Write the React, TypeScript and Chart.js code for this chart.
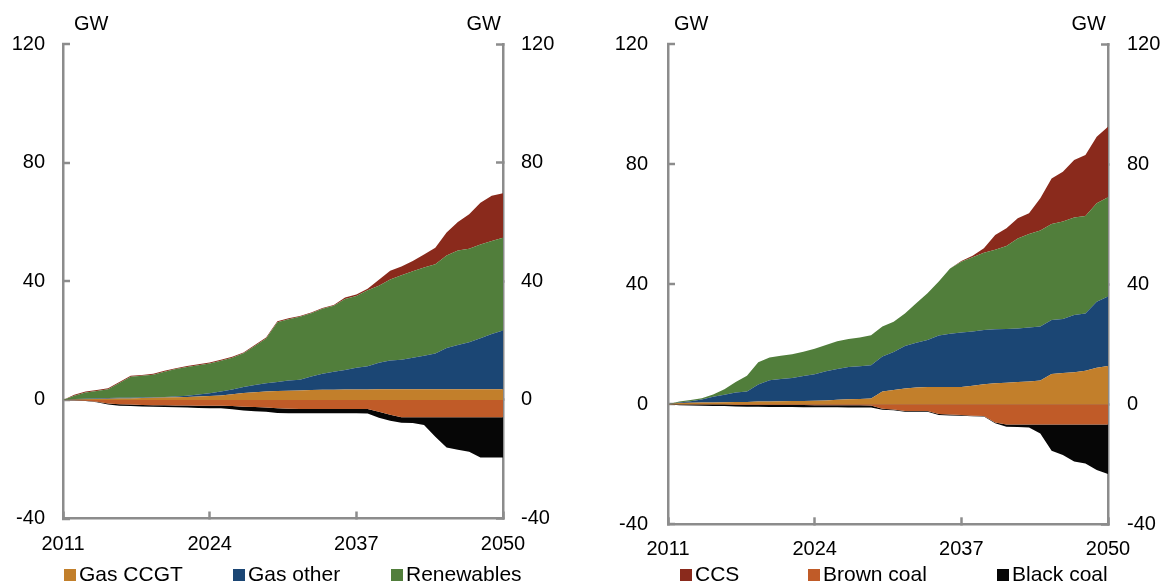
import React, { useEffect, useRef } from "react";
import { Chart, registerables } from "chart.js";

Chart.register(...registerables);

// ---------- data ----------
const years = [
  "2011", "2012", "2013", "2014", "2015", "2016", "2017", "2018", "2019", "2020",
  "2021", "2022", "2023", "2024", "2025", "2026", "2027", "2028", "2029", "2030",
  "2031", "2032", "2033", "2034", "2035", "2036", "2037", "2038", "2039", "2040",
  "2041", "2042", "2043", "2044", "2045", "2046", "2047", "2048", "2049", "2050",
];
const xTickYears = ["2011", "2024", "2037", "2050"];
const yMin = -40;
const yMax = 120;
const yStep = 40;
const unitLabel = "GW";

const seriesNames = ["Gas CCGT", "Gas other", "Renewables", "CCS", "Brown coal", "Black coal"];
const seriesColors = ["#C27F2B", "#1B4674", "#517E3B", "#8A2A1C", "#C05B28", "#060606"];

// Left panel
const leftGasCCGT = [0, 0.1, 0.2, 0.3, 0.4, 0.5, 0.5, 0.6, 0.7, 0.8, 0.9, 1.0, 1.1, 1.3, 1.5, 1.9, 2.3, 2.6, 2.8, 3.0, 3.1, 3.2, 3.3, 3.4, 3.4, 3.5, 3.5, 3.5, 3.6, 3.6, 3.6, 3.6, 3.6, 3.6, 3.6, 3.6, 3.6, 3.6, 3.6, 3.6];
const leftGasOther = [0, 0.2, 0.2, 0.2, 0.2, 0.2, 0.2, 0.2, 0.2, 0.2, 0.2, 0.4, 0.7, 0.9, 1.3, 1.6, 2.0, 2.4, 2.8, 3.0, 3.4, 3.6, 4.6, 5.4, 6.1, 6.6, 7.3, 7.8, 8.9, 9.7, 9.9, 10.6, 11.3, 12.0, 13.9, 14.9, 15.8, 17.2, 18.6, 19.8];
const leftRenewables = [0, 1.1, 2.1, 2.5, 3.0, 5.0, 7.1, 7.3, 7.6, 8.5, 9.3, 9.7, 9.9, 10.1, 10.4, 10.7, 11.4, 13.2, 15.1, 20.2, 20.7, 21.2, 21.3, 21.9, 22.2, 23.9, 24.2, 25.7, 26.0, 27.3, 28.5, 29.2, 29.7, 30.1, 31.2, 31.9, 31.6, 31.6, 31.4, 31.3];
const leftCCS = [0, 0.3, 0.3, 0.3, 0.3, 0.3, 0.3, 0.3, 0.3, 0.3, 0.3, 0.3, 0.3, 0.3, 0.3, 0.3, 0.3, 0.3, 0.3, 0.3, 0.3, 0.3, 0.3, 0.3, 0.3, 0.5, 0.5, 0.5, 2.0, 2.9, 3.0, 3.4, 4.4, 5.6, 7.7, 9.6, 11.6, 14.1, 15.2, 15.0];
const leftBrownCoal = [0, -0.1, -0.3, -0.6, -1.2, -1.5, -1.6, -1.7, -1.8, -1.8, -1.9, -1.9, -2.0, -2.0, -2.0, -2.1, -2.3, -2.4, -2.6, -2.8, -3.0, -3.1, -3.1, -3.1, -3.1, -3.1, -3.1, -3.1, -4.0, -5.0, -5.9, -5.9, -5.9, -5.9, -5.9, -5.9, -5.9, -5.9, -5.9, -5.9];
const leftBlackCoal = [0, -0.05, -0.1, -0.2, -0.4, -0.5, -0.5, -0.5, -0.5, -0.6, -0.6, -0.7, -0.7, -0.8, -0.8, -1.1, -1.3, -1.4, -1.4, -1.6, -1.5, -1.4, -1.4, -1.4, -1.4, -1.4, -1.4, -1.5, -2.0, -2.0, -1.8, -1.9, -2.6, -6.5, -10.2, -10.9, -11.6, -13.5, -13.5, -13.5];

// Right panel
const rightGasCCGT = [0, 0.4, 0.5, 0.6, 0.6, 0.7, 0.8, 0.8, 0.9, 0.9, 1.0, 1.1, 1.1, 1.2, 1.3, 1.5, 1.7, 1.8, 1.9, 4.3, 4.8, 5.3, 5.6, 5.8, 5.8, 5.8, 5.8, 6.2, 6.7, 7.0, 7.2, 7.4, 7.6, 7.9, 10.1, 10.4, 10.7, 11.2, 12.2, 12.8];
const rightGasOther = [0, 0.2, 0.5, 1.0, 1.9, 2.5, 3.1, 3.5, 5.7, 7.1, 7.4, 7.7, 8.3, 8.8, 9.7, 10.3, 10.7, 10.9, 11.1, 11.6, 12.6, 14.1, 14.9, 15.6, 17.1, 17.7, 18.1, 18.1, 18.1, 18.0, 17.9, 17.9, 18.0, 18.0, 18.0, 18.0, 19.1, 19.1, 22.0, 23.1];
const rightRenewables = [0, 0.3, 0.4, 0.4, 0.8, 1.8, 3.5, 5.2, 7.4, 7.6, 7.8, 7.9, 8.1, 8.5, 8.8, 9.2, 9.4, 9.6, 10.0, 10.0, 10.1, 10.9, 13.2, 15.6, 18.0, 21.8, 23.6, 24.7, 25.7, 26.5, 27.7, 30.0, 31.2, 32.0, 32.0, 32.5, 32.5, 32.5, 32.8, 33.1];
const rightCCS = [0, 0, 0, 0, 0, 0, 0, 0, 0, 0, 0, 0, 0, 0, 0, 0, 0, 0, 0, 0, 0, 0, 0, 0, 0, 0, 0.3, 0.5, 1.5, 4.9, 5.9, 6.7, 6.9, 10.8, 15.2, 16.6, 19.1, 20.3, 22.2, 23.5];
const rightBrownCoal = [0, -0.1, -0.1, -0.1, -0.1, -0.1, -0.2, -0.2, -0.2, -0.2, -0.2, -0.2, -0.2, -0.3, -0.3, -0.3, -0.3, -0.3, -0.4, -1.5, -1.7, -2.2, -2.2, -2.2, -3.2, -3.4, -3.6, -3.8, -3.9, -6.1, -6.7, -6.7, -6.7, -6.7, -6.7, -6.7, -6.7, -6.7, -6.7, -6.7];
const rightBlackCoal = [0, -0.2, -0.3, -0.4, -0.5, -0.5, -0.5, -0.6, -0.6, -0.7, -0.7, -0.7, -0.8, -0.7, -0.7, -0.7, -0.8, -0.8, -0.7, -0.3, -0.3, -0.3, -0.3, -0.3, -0.4, -0.3, -0.2, -0.2, -0.2, -0.2, -0.8, -0.9, -1.0, -3.0, -8.8, -10.2, -12.4, -13.0, -15.2, -16.5];

// ---------- styling ----------
const FONT = '"Liberation Sans", Arial, Helvetica, sans-serif';
const AXIS = "#8C8C8C";
const TEXT = "#000000";

type Panel = {
  series: number[][];
  legendItems: number[];
  legendX: number[];
  leftW: number;
  rightW: number;
  top: number;
  xHeight: number;
  xPad: number;
  yPadL: number;
  yPadR: number;
  unitInsetL: number;
  unitInsetR: number;
};

const panels: Panel[] = [
  {
    series: [leftGasCCGT, leftGasOther, leftRenewables, leftCCS, leftBrownCoal, leftBlackCoal],
    legendItems: [0, 1, 2],
    legendX: [64, 233, 391],
    leftW: 63,
    rightW: 79,
    top: 44,
    xHeight: 65.5,
    xPad: 21,
    yPadL: 25,
    yPadR: 25,
    unitInsetL: 11,
    unitInsetR: 2,
  },
  {
    series: [rightGasCCGT, rightGasOther, rightRenewables, rightCCS, rightBrownCoal, rightBlackCoal],
    legendItems: [3, 4, 5],
    legendX: [98, 226, 415],
    leftW: 86,
    rightW: 56,
    top: 44.3,
    xHeight: 59.7,
    xPad: 20,
    yPadL: 27,
    yPadR: 26,
    unitInsetL: 6,
    unitInsetR: 2,
  },
];

const panelDecor = {
  id: "panelDecor",
  afterDraw(chart: any, _args: any, opts: any) {
    const ctx = chart.ctx;
    const { left, right } = chart.chartArea;
    ctx.save();
    ctx.fillStyle = TEXT;
    ctx.textBaseline = "middle";
    ctx.font = `20px ${FONT}`;
    ctx.textAlign = "left";
    ctx.fillText(unitLabel, left + opts.unitInsetL, 24.5);
    ctx.textAlign = "right";
    ctx.fillText(unitLabel, right - opts.unitInsetR, 24.5);
    // legend
    ctx.font = `21px ${FONT}`;
    ctx.textAlign = "left";
    (opts.legendItems as number[]).forEach((dsIndex, i) => {
      const ds = chart.data.datasets[dsIndex];
      const x = opts.legendX[i];
      ctx.fillStyle = ds.backgroundColor;
      ctx.fillRect(x, 569, 12, 12);
      ctx.fillStyle = TEXT;
      ctx.fillText(ds.label, x + 15, 575.5);
    });
    ctx.restore();
  },
};

function makeConfig(p: Panel): any {
  const datasets = p.series.map((data, i) => ({
    label: seriesNames[i],
    data,
    backgroundColor: seriesColors[i],
    borderColor: "rgba(0,0,0,0)",
    borderWidth: 0,
    pointRadius: 0,
    pointHoverRadius: 0,
    tension: 0,
    fill: i === 0 || i === 4 ? "origin" : "-1",
  }));
  const tickFont = { family: FONT, size: 20 };
  return {
    type: "line",
    data: { labels: years, datasets },
    plugins: [panelDecor],
    options: {
      animation: false,
      responsive: false,
      devicePixelRatio: 1,
      events: [],
      layout: { padding: { top: p.top, left: 0, right: 0, bottom: 0 } },
      plugins: {
        legend: { display: false },
        tooltip: { enabled: false },
        panelDecor: {
          legendItems: p.legendItems,
          legendX: p.legendX,
          unitInsetL: p.unitInsetL,
          unitInsetR: p.unitInsetR,
        },
      },
      scales: {
        x: {
          type: "category",
          offset: false,
          grid: {
            drawOnChartArea: false,
            drawTicks: true,
            tickLength: -7,
            tickWidth: 2.5,
            tickColor: AXIS,
            color: AXIS,
          },
          border: { color: AXIS, width: 2.5 },
          ticks: {
            autoSkip: false,
            maxRotation: 0,
            minRotation: 0,
            padding: p.xPad,
            color: TEXT,
            font: tickFont,
            callback: (_v: any, i: number) => (xTickYears.includes(years[i]) ? years[i] : null),
          },
          afterFit: (s: any) => {
            s.height = p.xHeight;
          },
        },
        y: {
          position: "left",
          stacked: true,
          min: yMin,
          max: yMax,
          z: 1,
          ticks: { stepSize: yStep, padding: p.yPadL, color: TEXT, font: tickFont },
          grid: {
            drawOnChartArea: true,
            color: (c: any) => (c.tick && c.tick.value === 0 ? AXIS : "rgba(0,0,0,0)"),
            lineWidth: 2,
            tickColor: AXIS,
            tickLength: -7,
            tickWidth: 2.5,
          },
          border: { color: AXIS, width: 2.5 },
          afterFit: (s: any) => {
            s.width = p.leftW;
          },
        },
        y2: {
          position: "right",
          min: yMin,
          max: yMax,
          ticks: { stepSize: yStep, padding: p.yPadR, color: TEXT, font: tickFont },
          grid: {
            drawOnChartArea: false,
            color: AXIS,
            tickColor: AXIS,
            tickLength: -7,
            tickWidth: 2.5,
          },
          border: { color: AXIS, width: 2.5 },
          afterFit: (s: any) => {
            s.width = p.rightW;
          },
        },
      },
    },
  };
}

function PanelChart({ panel, left }: { panel: Panel; left: number }) {
  const ref = useRef<HTMLCanvasElement | null>(null);
  useEffect(() => {
    if (!ref.current) return;
    const chart = new Chart(ref.current, makeConfig(panel));
    return () => chart.destroy();
  }, [panel]);
  return (
    <canvas
      ref={ref}
      width={582}
      height={584}
      style={{ position: "absolute", left, top: 0, width: 582, height: 584, display: "block" }}
    />
  );
}

export default function App() {
  return (
    <div style={{ position: "absolute", left: 0, top: 0, width: 1164, height: 584, background: "#fff", overflow: "hidden" }}>
      <PanelChart panel={panels[0]} left={0} />
      <PanelChart panel={panels[1]} left={582} />
    </div>
  );
}
